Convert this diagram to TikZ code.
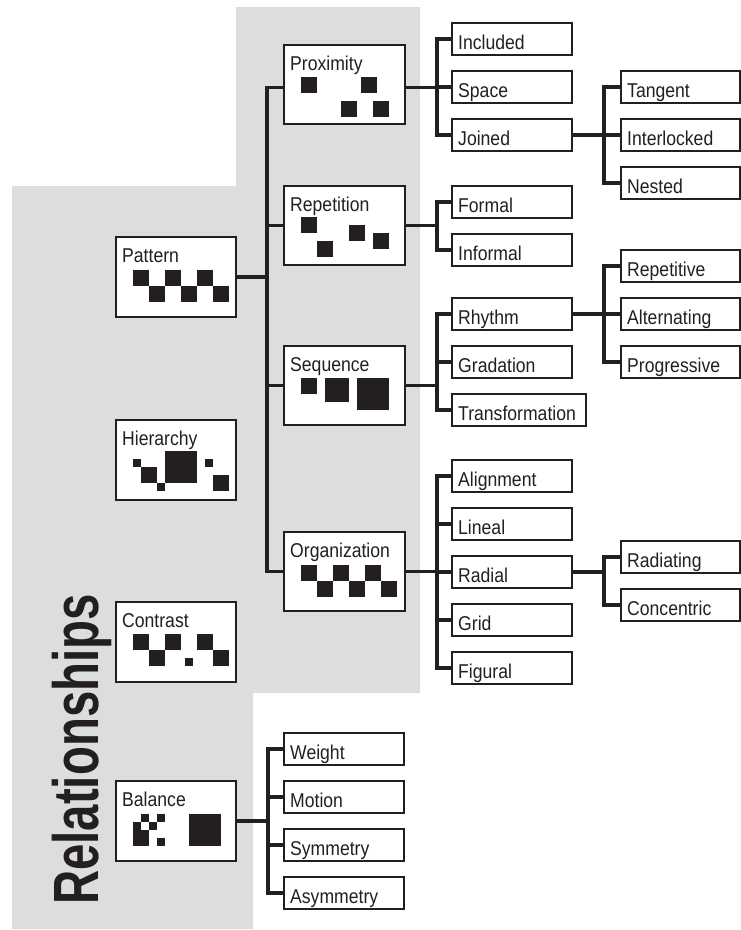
\documentclass[tikz,border=0pt]{standalone}
\usepackage{fontspec}
\setmainfont{Liberation Sans}[FakeStretch=0.88]
\newfontfamily\titlefont{Liberation Sans}[FakeStretch=0.74]
\definecolor{ink}{RGB}{35,31,32}
\definecolor{panel}{RGB}{220,221,223}

% leaf box with a left-aligned caption: [width]{name}{x,y of west side}{caption}
\newcommand{\leafnode}[4][120]{%
  \node[leaf, minimum width=#1pt] (#2) at (#3) {};
  \node[lbl] (#2-t) at ([xshift=6pt,yshift=-10pt]#2.west) {#4};}
% large box with caption near its top: [width/height style]{name}{x,y of north west}{caption}
\newcommand{\iconbox}[4]{%
  \node[#1] (#2) at (#3) {};
  \node[lbl] (#2-t) at ([xshift=6pt,yshift=-25pt]#2.north west) {#4};}

\begin{document}
\begin{tikzpicture}[x=1pt,y=-1pt,
  box/.style={draw=ink, line width=1.3pt, fill=white, inner sep=0pt, outer sep=0pt},
  bigbox/.style={box, minimum width=120pt, minimum height=80pt, anchor=north west},
  midbox/.style={box, minimum width=121pt, minimum height=79pt, anchor=north west},
  leaf/.style={box, minimum height=32pt, anchor=west},
  lbl/.style={anchor=base west, inner sep=0pt, font=\fontsize{20}{20}\selectfont, text=ink},
  conn/.style={draw=ink, line width=3.2pt},
  sq/.style={fill=ink}]

\useasboundingbox (0,0) rectangle (741,930);

% grey panel behind the group of "Relationships" boxes
\fill[panel] (12,186) -- (236,186) -- (236,7) -- (420,7) -- (420,693)
  -- (253,693) -- (253,929) -- (12,929) -- cycle;

% vertical title
\node[rotate=90, anchor=base west, inner sep=0pt, text=ink,
  font=\titlefont\bfseries\fontsize{64}{64}\selectfont] (title) at (98,905) {Relationships};

% junction columns
\coordinate (j1) at (267,0);
\coordinate (j2) at (437,0);
\coordinate (j3) at (604,0);
\coordinate (jb) at (268,0);

% first column
\iconbox{bigbox}{pattern}{116,237}{Pattern}
\iconbox{bigbox}{hier}{116,420}{Hierarchy}
\iconbox{bigbox}{contrast}{116,602}{Contrast}
\iconbox{bigbox}{balance}{116,781}{Balance}

% second column
\iconbox{midbox}{prox}{284,45}{Proximity}
\iconbox{midbox}{rep}{284,186}{Repetition}
\iconbox{midbox}{seq}{284,346}{Sequence}
\iconbox{midbox}{org}{284,532}{Organization}

% leaves of Proximity, Repetition, Sequence, Organization
\leafnode{inc}{452,39}{Included}
\leafnode{space}{452,87}{Space}
\leafnode{joined}{452,135}{Joined}
\leafnode{formal}{452,202}{Formal}
\leafnode{informal}{452,250}{Informal}
\leafnode{rhythm}{452,314}{Rhythm}
\leafnode{grad}{452,362}{Gradation}
\leafnode[134]{trans}{452,410}{Transformation}
\leafnode{align}{452,476}{Alignment}
\leafnode{lineal}{452,524}{Lineal}
\leafnode{radial}{452,572}{Radial}
\leafnode{grid}{452,620}{Grid}
\leafnode{figural}{452,668}{Figural}

% third level
\leafnode[119]{tang}{621,87}{Tangent}
\leafnode[119]{inter}{621,135}{Interlocked}
\leafnode[119]{nested}{621,183}{Nested}
\leafnode[119]{repet}{621,266}{Repetitive}
\leafnode[119]{alt}{621,314}{Alternating}
\leafnode[119]{prog}{621,362}{Progressive}
\leafnode[119]{radiating}{621,557}{Radiating}
\leafnode[119]{conc}{621,605}{Concentric}

% leaves of Balance
\leafnode{weight}{284,749}{Weight}
\leafnode{motion}{284,797}{Motion}
\leafnode{sym}{284,845}{Symmetry}
\leafnode{asym}{284,893}{Asymmetry}

% connectors
\draw[conn] (pattern.east) -- (pattern.east -| j1);
\foreach \c in {rep,seq,org} \draw[conn] (\c.west) -| (j1 |- pattern.east);
\draw[conn] ([yshift=-3pt]prox.west) -| (j1 |- pattern.east);

\draw[conn] ([yshift=-3pt]prox.east) -- ([yshift=-3pt]prox.east -| j2);
\foreach \c in {inc,space,joined} \draw[conn] (\c.west) -| (j2 |- space.west);

\draw[conn] (rep.east) -- (rep.east -| j2);
\foreach \c in {formal,informal} \draw[conn] (\c.west) -| (j2 |- rep.east);

\draw[conn] (seq.east) -- (seq.east -| j2);
\foreach \c in {rhythm,grad,trans} \draw[conn] (\c.west) -| (j2 |- seq.east);

\draw[conn] (org.east) -- (org.east -| j2);
\foreach \c in {align,lineal,radial,grid,figural} \draw[conn] (\c.west) -| (j2 |- org.east);

\draw[conn] (joined.east) -- (joined.east -| j3);
\foreach \c in {tang,inter,nested} \draw[conn] (\c.west) -| (j3 |- joined.east);

\draw[conn] (rhythm.east) -- (rhythm.east -| j3);
\foreach \c in {repet,alt,prog} \draw[conn] (\c.west) -| (j3 |- rhythm.east);

\draw[conn] (radial.east) -- (radial.east -| j3);
\foreach \c in {radiating,conc} \draw[conn] (\c.west) -| (j3 |- radial.east);

\draw[conn] (balance.east) -- (balance.east -| jb);
\foreach \c in {weight,motion,sym,asym} \draw[conn] (\c.west) -| (jb |- balance.east);

% icons
% Pattern: checkerboard strip
\foreach \x in {133,165,197} \fill[sq] (\x,270) rectangle ++(16,16);
\foreach \x in {149,181,213} \fill[sq] (\x,286) rectangle ++(16,16);
% Hierarchy: one large square among small ones
\fill[sq] (133,459) rectangle ++(8,8);
\fill[sq] (141,467) rectangle ++(16,16);
\fill[sq] (157,483) rectangle ++(8,8);
\fill[sq] (165,451) rectangle ++(32,32);
\fill[sq] (205,459) rectangle ++(8,8);
\fill[sq] (213,475) rectangle ++(16,16);
% Contrast: strip with one small square
\foreach \x in {133,165,197} \fill[sq] (\x,634) rectangle ++(16,16);
\foreach \x in {149,213} \fill[sq] (\x,650) rectangle ++(16,16);
\fill[sq] (185,658) rectangle ++(8,8);
% Balance: small cluster against one large square
\foreach \cx/\cy in {1/0,3/0,0/1,2/1,0/2,1/2,0/3,1/3,3/3}
  \fill[sq] (133+8*\cx,814+8*\cy) rectangle ++(8,8);
\fill[sq] (189,814) rectangle ++(32,32);
% Proximity
\foreach \x/\y in {301/77,361/77,341/101,373/101} \fill[sq] (\x,\y) rectangle ++(16,16);
% Repetition
\foreach \x/\y in {301/217,317/241,349/225,373/233} \fill[sq] (\x,\y) rectangle ++(16,16);
% Sequence: growing squares
\fill[sq] (301,378) rectangle ++(16,16);
\fill[sq] (325,378) rectangle ++(24,24);
\fill[sq] (357,378) rectangle ++(32,32);
% Organization
\foreach \x in {301,333,365} \fill[sq] (\x,565) rectangle ++(16,16);
\foreach \x in {317,349,381} \fill[sq] (\x,581) rectangle ++(16,16);

\end{tikzpicture}
\end{document}
